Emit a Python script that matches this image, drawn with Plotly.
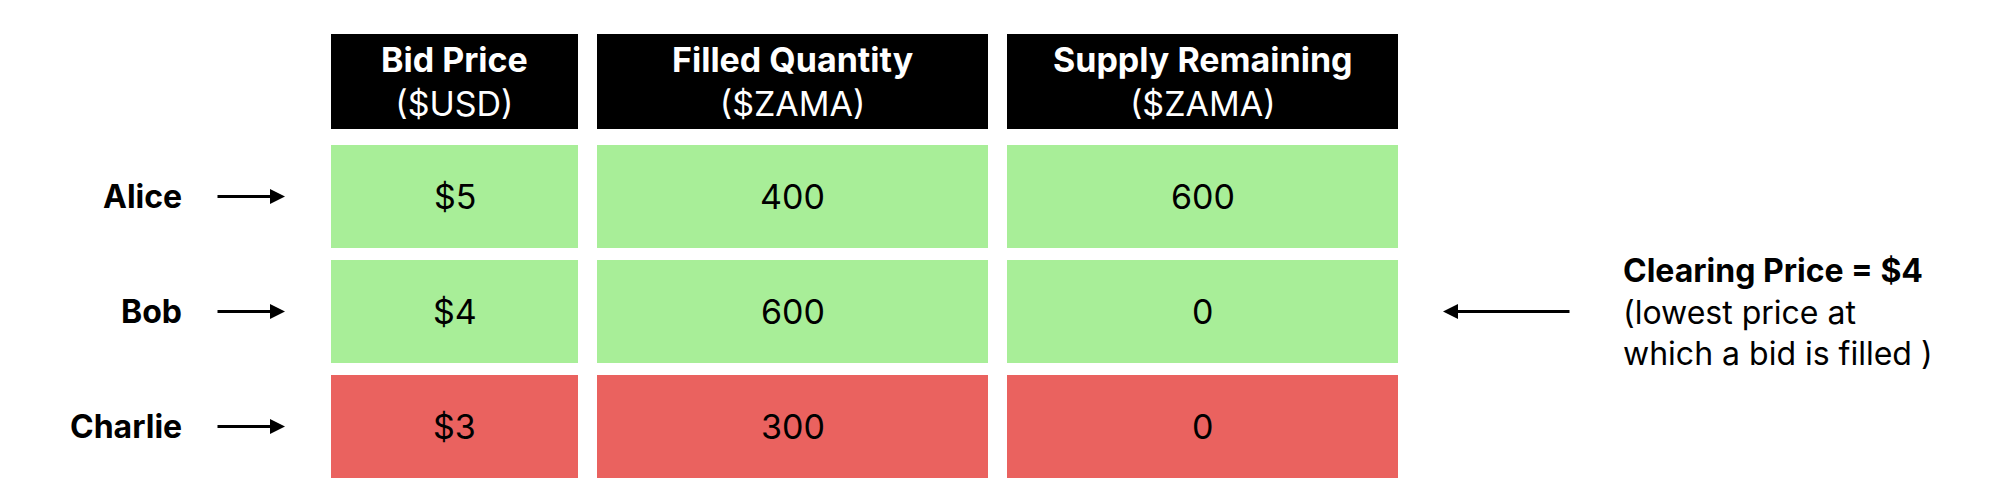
import plotly.graph_objects as go

headers = ["<b>Bid Price</b><br>($USD)", "<b>Filled Quantity</b><br>($ZAMA)", "<b>Supply Remaining</b><br>($ZAMA)"]
bidders = ["Alice", "Bob", "Charlie"]
bid_price = ["$5", "$4", "$3"]
filled_qty = ["400", "600", "300"]
supply_remaining = ["600", "0", "0"]
filled = [True, True, False]

col_x = [(323, 570), (589, 980), (999, 1390)]
head_y = (26, 121)
row_y = [(137, 240), (252, 355), (367, 470)]
GREEN, RED = "#a8ee98", "#ea625f"
FONT = "Inter"

fig = go.Figure()
shapes, ann = [], []
for (x0, x1), h in zip(col_x, headers):
    shapes.append(dict(type="rect", xref="x", yref="y", x0=x0, x1=x1, y0=head_y[0], y1=head_y[1],
                       fillcolor="black", line_width=0))
    ann.append(dict(x=(x0+x1)/2, y=(head_y[0]+head_y[1])/2, text=h, showarrow=False,
                    font=dict(family=FONT, size=34, color="white")))
cols = [bid_price, filled_qty, supply_remaining]
for r, (y0, y1) in enumerate(row_y):
    color = GREEN if filled[r] else RED
    for c, (x0, x1) in enumerate(col_x):
        shapes.append(dict(type="rect", xref="x", yref="y", x0=x0, x1=x1, y0=y0, y1=y1,
                           fillcolor=color, line_width=0))
        ann.append(dict(x=(x0+x1)/2, y=(y0+y1)/2, text=cols[c][r], showarrow=False,
                        font=dict(family=FONT, size=34, color="black")))
    yc = (y0+y1)/2
    ann.append(dict(x=176, y=yc, text="<b>"+bidders[r]+"</b>", showarrow=False, xanchor="right",
                    font=dict(family=FONT, size=32, color="black")))
    ann.append(dict(x=277, y=yc, ax=208, ay=yc, axref="x", ayref="y", text="", showarrow=True,
                    arrowhead=2, arrowsize=1, arrowwidth=3, arrowcolor="black"))

yb = (row_y[1][0]+row_y[1][1])/2
ann.append(dict(x=1435, y=yb, ax=1563, ay=yb, axref="x", ayref="y", text="", showarrow=True,
                arrowhead=2, arrowsize=1, arrowwidth=3, arrowcolor="black"))
ann.append(dict(x=1613, y=yb, text="<b>Clearing Price = $4</b><br>(lowest price at<br>which a bid is filled )",
                showarrow=False, xanchor="left", align="left",
                font=dict(family=FONT, size=32, color="black")))

fig.add_trace(go.Scatter(x=[0, 1994], y=[0, 502], mode="markers", marker_opacity=0, hoverinfo="skip"))
fig.update_layout(width=1994, height=502, margin=dict(l=0, r=0, t=0, b=0),
                  plot_bgcolor="white", paper_bgcolor="white", showlegend=False,
                  shapes=shapes, annotations=ann,
                  xaxis=dict(range=[0, 1994], visible=False, fixedrange=True),
                  yaxis=dict(range=[502, 0], visible=False, fixedrange=True))
fig.write_html("out.html")
